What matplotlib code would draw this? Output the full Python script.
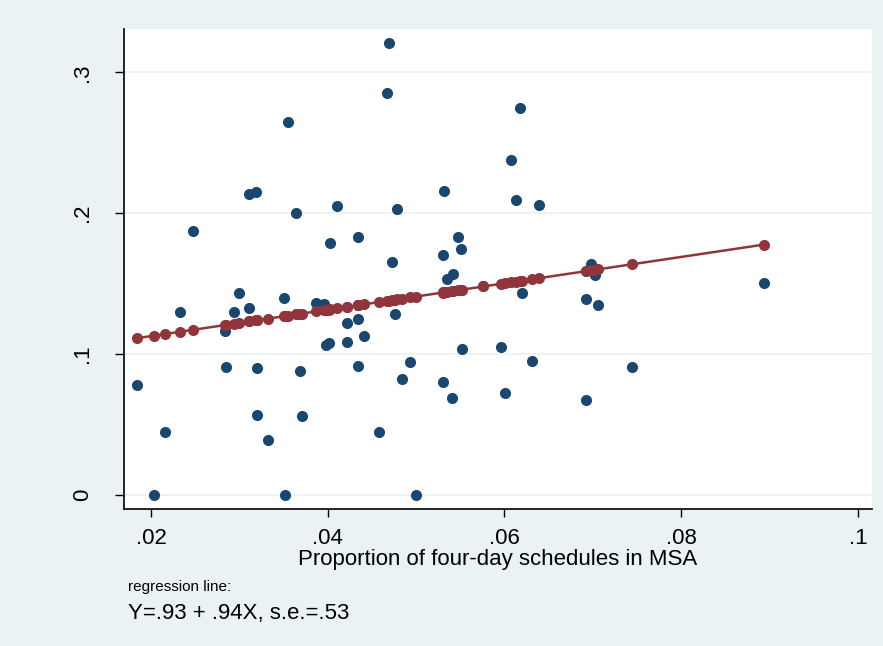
import matplotlib
matplotlib.use("Agg")
import matplotlib.pyplot as plt
import numpy as np

plt.rcParams['font.family'] = ['Liberation Sans', 'DejaVu Sans']

# MSA data: share of four-day schedules (x) and outcome (y)
share_4day = [0.0355, 0.0311, 0.0319, 0.0247, 0.0364, 0.0410, 0.0403, 0.0434,
              0.0469, 0.0467, 0.0618, 0.0607, 0.0532, 0.0478, 0.0613, 0.0639,
              0.0547, 0.0551, 0.0531, 0.0473, 0.0542, 0.0535, 0.0698, 0.0703,
              0.0233, 0.0299, 0.0294, 0.0311, 0.0350, 0.0387, 0.0396, 0.0284,
              0.0422, 0.0434, 0.0398, 0.0401, 0.0422, 0.0441, 0.0184, 0.0285,
              0.0320, 0.0369, 0.0434, 0.0216, 0.0320, 0.0371, 0.0332, 0.0203,
              0.0352, 0.0458, 0.0476, 0.0620, 0.0692, 0.0706, 0.0552, 0.0596,
              0.0493, 0.0631, 0.0484, 0.0530, 0.0541, 0.0601, 0.0692, 0.0744,
              0.0500, 0.0894, 0.0576]
outcome = [0.265, 0.2133, 0.2148, 0.1873, 0.1999, 0.2048, 0.1785, 0.1833,
           0.3206, 0.2855, 0.2744, 0.2377, 0.2157, 0.2029, 0.2093, 0.2058,
           0.1830, 0.1745, 0.1700, 0.1651, 0.1567, 0.1532, 0.1638, 0.1560,
           0.1295, 0.1430, 0.1298, 0.1328, 0.1397, 0.1359, 0.1354, 0.1163,
           0.1217, 0.1248, 0.1063, 0.1075, 0.1085, 0.1127, 0.0781, 0.0909,
           0.0898, 0.0879, 0.0914, 0.0445, 0.0568, 0.0559, 0.0389, 0.0,
           0.0, 0.0443, 0.1281, 0.1435, 0.1390, 0.1350, 0.1033, 0.1049,
           0.0940, 0.0947, 0.0822, 0.0798, 0.0685, 0.0724, 0.0675, 0.0905,
           0.0, 0.1504, 0.148]

# fitted line
fit_intercept = 0.0939
fit_slope = 0.937

x_ticks = [0.02, 0.04, 0.06, 0.08, 0.1]
x_labels = [".02", ".04", ".06", ".08", ".1"]
y_ticks = [0, 0.1, 0.2, 0.3]
y_labels = ["0", ".1", ".2", ".3"]

blue = "#1a476f"
red = "#90353b"
bg = "#eaf2f3"

x = np.array(share_4day)
y = np.array(outcome)
order = np.argsort(x)
xs = x[order]
yfit = fit_intercept + fit_slope * xs

fig = plt.figure(figsize=(8.83, 6.46), dpi=100, facecolor=bg)
ax = fig.add_axes([124/883, 1 - 509/646, 748/883, 480/646])
ax.set_facecolor("white")

for t in y_ticks:
    ax.axhline(t, color=bg, lw=1.3, zorder=0)

ax.plot(x, y, "o", color=blue, ms=8, mew=0, zorder=2)
ax.plot(xs, yfit, "-o", color=red, ms=8, mew=0, lw=1.8, zorder=3)

ax.set_xlim(0.01694, 0.1016)
ax.set_ylim(-0.0102, 0.3308)
ax.set_xticks(x_ticks)
ax.set_xticklabels(x_labels, fontsize=16)
ax.set_yticks(y_ticks)
ax.set_yticklabels(y_labels, fontsize=16, rotation=90, va="center")
ax.tick_params(axis="x", length=6, width=1, pad=8)
ax.tick_params(axis="y", length=6.5, width=1, pad=16)
for s in ["top", "right"]:
    ax.spines[s].set_visible(False)
for s in ["left", "bottom"]:
    ax.spines[s].set_linewidth(1.2)

ax.set_xlabel("Proportion of four-day schedules in MSA", fontsize=16, labelpad=0)

fig.text(128/883, 1 - 587/646, "regression line:", fontsize=11, va="center", ha="left")
fig.text(128/883, 1 - 614/646, "Y=.93 + .94X, s.e.=.53", fontsize=16, va="center", ha="left")

fig.savefig("out.png", dpi=100, facecolor=bg)
